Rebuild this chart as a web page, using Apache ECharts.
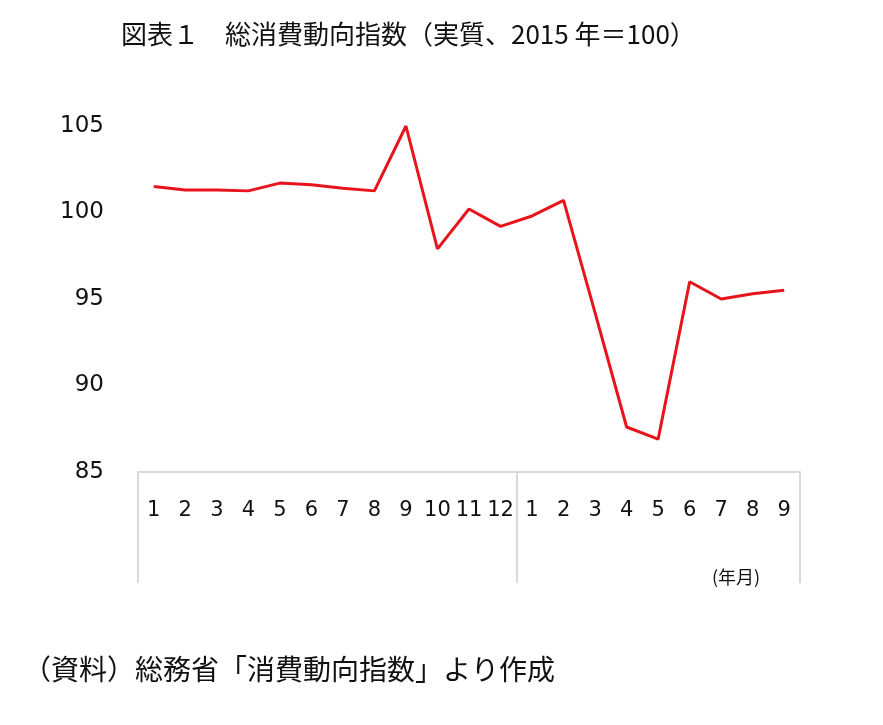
<!DOCTYPE html>
<html><head><meta charset="utf-8">
<script src="https://cdn.jsdelivr.net/npm/echarts@6/dist/echarts.min.js"></script>
<style>html,body{margin:0;background:#fff}#c{width:883px;height:725px}</style>
</head><body><div id="c"></div>
<script>
const months = ['1','2','3','4','5','6','7','8','9','10','11','12','1','2','3','4','5','6','7','8','9'];
const yearLabels = { 5: '2019', 16: '2020' };
const values = [101.5, 101.3, 101.3, 101.25, 101.7, 101.6, 101.4, 101.25, 105.0, 97.9, 100.2, 99.2,
  99.8, 100.7, 94.2, 87.6, 86.9, 96.0, 95.0, 95.3, 95.5];
const yearStarts = [0, 12, 21];

const chart = echarts.init(document.getElementById('c'));
chart.setOption({
  animation: false,
  title: [{
    text: '図表１　総消費動向指数（実質、2015 年＝100）',
    left: 116, top: 16,
    textStyle: { fontFamily: 'Noto Sans CJK JP', fontWeight: 'normal', fontSize: 26, color: '#111' },
  }, {
    text: '（資料）総務省「消費動向指数」より作成',
    left: 18, top: 650,
    textStyle: { fontFamily: 'Noto Sans CJK JP', fontWeight: 'normal', fontSize: 28, color: '#111' },
  }],
  graphic: [{
    type: 'text', left: 712, top: 568,
    style: { text: '(年月)', font: '18px "Noto Sans CJK JP"', fill: '#111' },
  }],
  grid: { left: 138, right: 83, top: 126, bottom: 253 },
  xAxis: [{
    type: 'category', data: months, boundaryGap: true,
    axisLine: { lineStyle: { color: '#d9d9d9', width: 2 } },
    axisTick: { show: false },
    axisLabel: { interval: 0, margin: 28, fontSize: 21, color: '#111', fontFamily: 'DejaVu Sans' },
  }, {
    type: 'category', data: months, position: 'bottom', boundaryGap: true,
    axisLine: { show: false },
    axisTick: {
      show: true, length: 111,
      interval: (i) => yearStarts.includes(i),
      lineStyle: { color: '#d9d9d9', width: 2 },
    },
    axisLabel: {
      interval: 0, margin: 84, fontSize: 22, color: '#111', fontFamily: 'DejaVu Sans',
      formatter: (v, i) => yearLabels[i] || '',
      padding: (v, i) => [0, 0, 0, 32],
    },
  }],
  yAxis: {
    type: 'value', min: 85, max: 105, interval: 5,
    axisLine: { show: false }, axisTick: { show: false }, splitLine: { show: false },
    axisLabel: { margin: 34, fontSize: 23, color: '#111', fontFamily: 'DejaVu Sans' },
  },
  series: [{
    type: 'line', data: values, symbol: 'none',
    lineStyle: { color: '#e8141c', width: 3 },
  }],
});
</script></body></html>
